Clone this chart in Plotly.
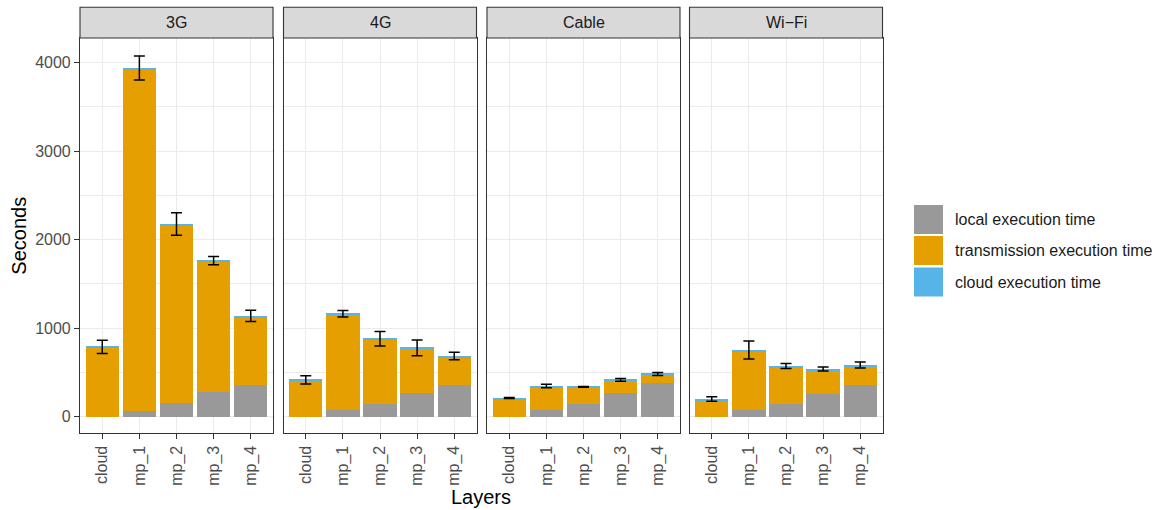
import plotly.graph_objects as go

networks = ["3G", "4G", "Cable", "Wi\u2212Fi"]
layers = ["cloud", "mp_1", "mp_2", "mp_3", "mp_4"]

local_time = {
    "3G":    [0, 68, 150, 275, 354],
    "4G":    [0, 79, 147, 263, 361],
    "Cable": [0, 76, 147, 263, 376],
    "Wi\u2212Fi": [0, 79, 143, 260, 358],
}
transmission_time = {
    "3G":    [776, 3860, 2015, 1476, 772],
    "4G":    [403, 1072, 721, 502, 312],
    "Cable": [199, 259, 177, 140, 95],
    "Wi\u2212Fi": [188, 662, 418, 267, 214],
}
cloud_time = {
    "3G":    [12, 12, 12, 12, 12],
    "4G":    [12, 12, 12, 12, 12],
    "Cable": [12, 12, 12, 12, 12],
    "Wi\u2212Fi": [12, 12, 12, 12, 12],
}
total_sd = {
    "3G":    [75, 137, 126, 46, 64],
    "4G":    [47, 38, 82, 88, 42],
    "Cable": [5, 19, 5, 15, 17],
    "Wi\u2212Fi": [26, 101, 28, 22, 35],
}

series = [
    ("local execution time", local_time, "#999999"),
    ("transmission execution time", transmission_time, "#E69F00"),
    ("cloud execution time", cloud_time, "#56B4E9"),
]

W, H = 1161, 510
FONT = "Liberation Sans, Arial, Helvetica, sans-serif"

panel_px = [(80, 273), (283.5, 476.5), (487, 680), (689.5, 882.5)]
plot_top, plot_bot = 38, 433.3
strip_top = 7.3

def px_x(x):
    return x / W

def px_y(y):
    return (H - y) / H

fig = go.Figure()

for i, net in enumerate(networks):
    xa = "x" if i == 0 else f"x{i+1}"
    ya = "y" if i == 0 else f"y{i+1}"
    for name, data, color in series:
        fig.add_trace(go.Bar(
            x=layers, y=data[net], name=name, marker=dict(color=color, line=dict(width=0)),
            xaxis=xa, yaxis=ya, showlegend=False,
        ))
    totals = [a + b + c for a, b, c in zip(local_time[net], transmission_time[net], cloud_time[net])]
    fig.add_trace(go.Scatter(
        x=layers, y=totals, mode="markers", marker=dict(opacity=0, size=1),
        error_y=dict(type="data", array=total_sd[net], symmetric=True,
                     color="black", thickness=1.5, width=5.5),
        xaxis=xa, yaxis=ya, showlegend=False, hoverinfo="skip",
    ))

layout = dict(
    width=W, height=H,
    margin=dict(l=0, r=0, t=0, b=0),
    paper_bgcolor="white", plot_bgcolor="white",
    barmode="stack", bargap=0.1,
    font=dict(family=FONT, size=16, color="#4D4D4D"),
    showlegend=False,
)

yrange = [-188, 4279]
for i, net in enumerate(networks):
    xk = "xaxis" if i == 0 else f"xaxis{i+1}"
    yk = "yaxis" if i == 0 else f"yaxis{i+1}"
    ya = "y" if i == 0 else f"y{i+1}"
    xa = "x" if i == 0 else f"x{i+1}"
    x0, x1 = panel_px[i]
    layout[xk] = dict(
        domain=[px_x(x0), px_x(x1)], anchor=ya,
        type="category", categoryorder="array", categoryarray=layers,
        range=[-0.6, 4.6], showgrid=True, gridcolor="#EBEBEB", gridwidth=1.2,
        showline=True, linecolor="#333333", linewidth=1.1, mirror=True,
        ticks="outside", ticklen=5, tickcolor="#333333", tickwidth=1.1,
        tickangle=-90, tickfont=dict(size=16, color="#4D4D4D", family=FONT),
        zeroline=False, automargin=False, fixedrange=True,
    )
    layout[yk] = dict(
        domain=[px_y(plot_bot), px_y(plot_top)], anchor=xa,
        range=yrange, tickvals=[0, 1000, 2000, 3000, 4000],
        showgrid=True, gridcolor="#EBEBEB", gridwidth=1.2,
        minor=dict(tickvals=[500, 1500, 2500, 3500], showgrid=True, gridcolor="#EBEBEB", gridwidth=0.6, ticks=""),
        showline=True, linecolor="#333333", linewidth=1.1, mirror=True,
        ticks="outside" if i == 0 else "", ticklen=5, tickcolor="#333333", tickwidth=1.1,
        showticklabels=(i == 0), tickfont=dict(size=16, color="#4D4D4D", family=FONT),
        zeroline=False, automargin=False, fixedrange=True,
    )

shapes = []
annotations = []
for i, net in enumerate(networks):
    x0, x1 = panel_px[i]
    shapes.append(dict(type="rect", xref="paper", yref="paper",
                       x0=px_x(x0), x1=px_x(x1), y0=px_y(plot_top), y1=px_y(strip_top),
                       fillcolor="#D9D9D9", line=dict(color="#333333", width=1.1)))
    annotations.append(dict(xref="paper", yref="paper", x=px_x((x0 + x1) / 2),
                            y=px_y((plot_top + strip_top) / 2), text=net, showarrow=False,
                            xanchor="center", yanchor="middle",
                            font=dict(size=16, color="#1A1A1A", family=FONT)))

# axis titles
annotations.append(dict(xref="paper", yref="paper", x=px_x((80 + 882.5) / 2), y=px_y(497),
                        text="Layers", showarrow=False, xanchor="center", yanchor="middle",
                        font=dict(size=20, color="black", family=FONT)))
annotations.append(dict(xref="paper", yref="paper", x=px_x(19), y=px_y((plot_top + plot_bot) / 2),
                        text="Seconds", showarrow=False, textangle=-90, xanchor="center", yanchor="middle",
                        font=dict(size=20, color="black", family=FONT)))

# legend
key_tops = [205, 236, 267.5]
for (name, data, color), ky in zip(series, key_tops):
    shapes.append(dict(type="rect", xref="paper", yref="paper",
                       x0=px_x(914), x1=px_x(943), y0=px_y(ky + 29), y1=px_y(ky),
                       fillcolor=color, line=dict(width=0)))
    annotations.append(dict(xref="paper", yref="paper", x=px_x(953), y=px_y(ky + 14.5),
                            text=name, showarrow=False, xanchor="left", yanchor="middle",
                            font=dict(size=16, color="#1A1A1A", family=FONT)))

layout["shapes"] = shapes
layout["annotations"] = annotations
fig.update_layout(**layout)
fig.write_html("out.html", config={"displayModeBar": False},
               post_script="document.body.style.margin='0px';document.body.style.overflow='hidden';")
